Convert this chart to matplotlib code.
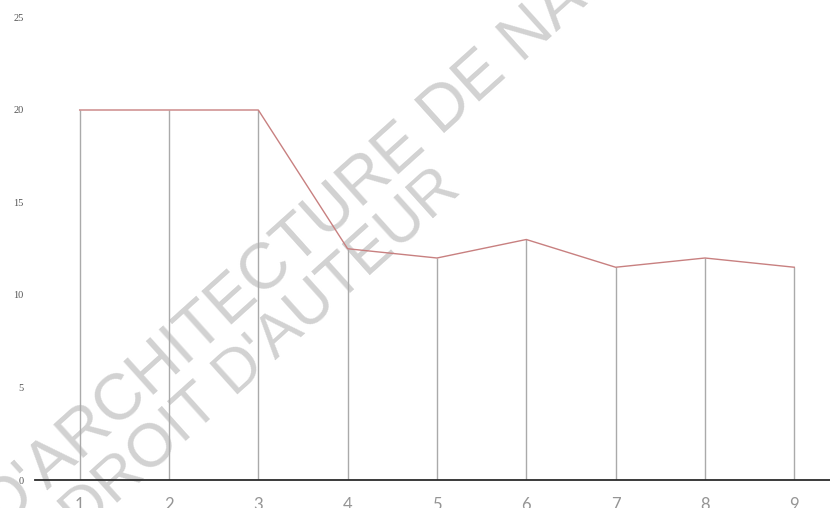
import matplotlib

matplotlib.use('Agg')
import matplotlib.pyplot as plt

# --- data ---
positions = [1, 2, 3, 4, 5, 6, 7, 8, 9]
values = [20, 20, 20, 12.5, 12, 13, 11.5, 12, 11.5]
y_ticks = [0, 5, 10, 15, 20, 25]
watermark_lines = ["D'ARCHITECTURE DE NANTES", "DROIT D'AUTEUR"]

fig = plt.figure(figsize=[8.3, 5.08], dpi=100)
ax = fig.add_axes([35 / 830, 28 / 508, 1 - 35 / 830, (480 - 17.5) / 508])
ax.set_facecolor('none')

# stems from the baseline up to each value, then the profile line
ax.vlines(positions, 0, values, color='#aaaaaa', lw=1)
ax.plot(positions, values, color='#c88080', lw=1)

ax.set_xlim(0.5, 9.4)
ax.set_ylim(0, 25)
for side in ['top', 'right', 'left']:
    ax.spines[side].set_visible(False)
ax.spines['bottom'].set_color('#2b2b2b')
ax.spines['bottom'].set_linewidth(1.3)

ax.set_xticks(positions)
ax.set_xticklabels([str(p) for p in positions], fontsize=12, color='#959595',
                   family='Lato')
ax.set_yticks(y_ticks)
ax.set_yticklabels([str(v) for v in y_ticks], fontsize=7.5, color='#555555',
                   family='Liberation Serif')
ax.tick_params(axis='x', length=0, pad=12)
ax.tick_params(axis='y', length=0, pad=8)

# watermark behind the chart
wm_style = dict(color='#d2d2d2', family='Liberation Sans', rotation=42,
                rotation_mode='anchor', ha='left', va='center', zorder=-1)
fig.text(-8 / 830, 1 - 518 / 508, watermark_lines[0], fontsize=47, **wm_style)
fig.text(71 / 830, 1 - 524 / 508, watermark_lines[1], fontsize=44, **wm_style)

fig.savefig('out.png', dpi=100)
